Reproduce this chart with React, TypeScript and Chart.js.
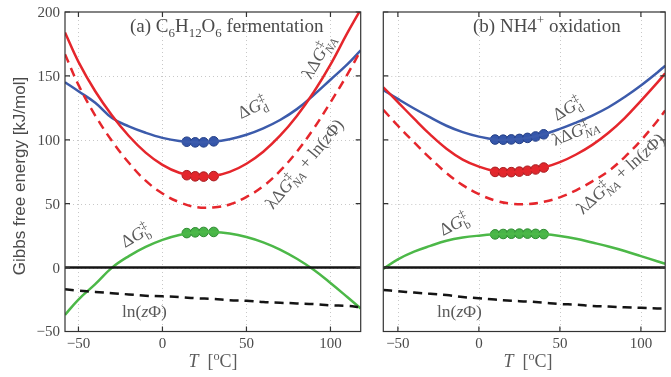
import React, { useEffect, useRef } from "react";
import { Chart, registerables } from "chart.js";

Chart.register(...registerables);

// ---------- Data ----------
// Panel (a) C6H12O6 fermentation
const T_A = [-58, -50, -40, -30, -20, -10, 0, 10, 20, 30, 40, 50, 60, 70, 80, 90, 100, 110, 118];
const A_DG_D = [145, 138, 129, 117, 110.5, 105.5, 101.5, 99, 98, 98.5, 100.5, 104, 109, 115.5, 124, 135, 147, 159, 170];
const A_LDG_NA = [184, 161, 138, 119, 103, 90, 80.4, 74.2, 71.3, 71.6, 74.9, 81.3, 90.7, 103.2, 118.7, 137.2, 158.8, 183.4, 202];
const A_LDG_NA_LN = [167, 143, 119, 99, 82, 68, 58, 51.2, 47.3, 47.1, 49.4, 55.3, 63.7, 75.7, 90.7, 108.7, 129.3, 151, 170];
const A_DG_B = [-37, -25, -13, 0, 9, 16.2, 21.7, 25.5, 27.6, 27.9, 26.7, 24, 19.8, 14.1, 6.9, -1.7, -12, -23, -32];
const A_LN = [-17, -18, -19, -20, -21, -22, -22.5, -23, -24, -24.5, -25.5, -26, -27, -27.5, -28, -28.5, -29.5, -30, -31];
const A_DOT_T = [14.5, 19.5, 24.5, 30.5];
const A_DOT_D = [98.5, 98, 98, 98.8];
const A_DOT_NA = [72.3, 71.4, 71.2, 71.6];
const A_DOT_B = [27, 27.6, 27.9, 27.9];

// Panel (b) NH4+ oxidation
const T_B = [-59, -50, -40, -30, -20, -10, 0, 10, 20, 30, 40, 50, 60, 70, 80, 90, 100, 110, 115];
const B_DG_D = [139, 132, 124.5, 117.5, 111, 106, 102.5, 100.3, 100.3, 101.5, 104.3, 108.5, 113.5, 119, 125.5, 133.5, 142.5, 152.5, 158];
const B_LDG_NA = [141, 129.5, 116.5, 104, 93, 84.5, 79, 75.5, 74.7, 75.8, 78.3, 82.5, 88.5, 96, 105.5, 117, 130.5, 144.5, 152];
const B_LDG_NA_LN = [123.5, 111, 98, 85.5, 74, 64.5, 57.5, 52.5, 50, 49.7, 51.5, 55, 60.5, 67.5, 75.5, 86.5, 99.5, 114.5, 123];
const B_DG_B = [-1, 6.5, 12.5, 17, 21, 23.5, 25, 26, 26.5, 26.6, 26.2, 24.8, 22.6, 19.6, 16.5, 13, 9, 5, 3];
const B_LN = [-17.5, -18.5, -19.5, -20.5, -21.5, -23, -24, -25, -26, -26.5, -27.5, -28.5, -29, -30, -30.5, -31, -31.5, -32, -32];
const B_DOT_T = [10, 15, 20, 25, 30, 35, 40];
const B_DOT_D = [100.2, 100.1, 100.3, 100.7, 101.5, 102.6, 104.3];
const B_DOT_NA = [74.9, 74.6, 74.7, 75.1, 75.8, 76.8, 78.3];
const B_DOT_B = [26, 26.3, 26.5, 26.6, 26.6, 26.4, 26.2];

const X_TICKS = [-50, 0, 50, 100];
const Y_TICKS = [-50, 0, 50, 100, 150, 200];
const Y_MIN = -50;
const Y_MAX = 200;
const A_X_RANGE = [-58, 118];
const B_X_RANGE = [-59, 115];
const ZERO_G = [0, 0];

// ---------- Styling ----------
const SERIF = '"Liberation Serif", "DejaVu Serif", serif';
const SANS = '"Liberation Sans", Arial, sans-serif';
const BLUE = "#3c5bab";
const RED = "#e5262c";
const GREEN = "#4cb848";
const BLACK = "#141414";
const TEXT = "#4a4a4a";
const LABEL = "#5a5a5a";

type Seg = { t?: string; italic?: boolean; sup?: string; sub?: string; subItalic?: boolean };
type Label = { segs: Seg[]; x: number; y: number; angle: number; size: number; color: string; align?: "left" | "center" };

const gd = (s: string): Seg[] => [{ t: "Δ" }, { t: "G", italic: true, sup: "‡", sub: s }];
const lna: Seg[] = [{ t: "λΔ" }, { t: "G", italic: true, sup: "‡", sub: "NA", subItalic: true }];
const lnzp: Seg[] = [{ t: "ln(" }, { t: "z", italic: true }, { t: "Φ)" }];
const xTitle: Seg[] = [{ t: "T", italic: true }, { t: "  [" }, { sup: "o" }, { t: "C]" }];

const LABELS_A: Label[] = [
  { segs: [{ t: "(a) C", sub: "6" }, { t: "H", sub: "12" }, { t: "O", sub: "6" }, { t: " fermentation" }], x: 130, y: 32, angle: 0, size: 19, color: TEXT },
  { segs: gd("d"), x: 241, y: 119, angle: -25, size: 17.5, color: LABEL },
  { segs: lna, x: 311, y: 80, angle: -60, size: 17.5, color: LABEL },
  { segs: [...lna, { t: " + " }, ...lnzp], x: 273, y: 210, angle: -50, size: 17.5, color: LABEL },
  { segs: gd("b"), x: 125, y: 248, angle: -30, size: 17.5, color: LABEL },
  { segs: lnzp, x: 122, y: 317, angle: 0, size: 17.5, color: LABEL },
  { segs: xTitle, x: 213, y: 367, angle: 0, size: 18, color: LABEL, align: "center" },
];
const LABELS_B: Label[] = [
  { segs: [{ t: "(b) NH4", sup: "+" }, { t: " oxidation" }], x: 473, y: 32, angle: 0, size: 19, color: TEXT },
  { segs: gd("d"), x: 557, y: 121, angle: -30, size: 17.5, color: LABEL },
  { segs: lna, x: 555, y: 146, angle: -22, size: 17.5, color: LABEL },
  { segs: [...lna, { t: " + " }, ...lnzp], x: 583, y: 215, angle: -42, size: 17.5, color: LABEL },
  { segs: gd("b"), x: 443, y: 236, angle: -27, size: 17.5, color: LABEL },
  { segs: lnzp, x: 437, y: 317, angle: 0, size: 17.5, color: LABEL },
  { segs: xTitle, x: 528, y: 367, angle: 0, size: 18, color: LABEL, align: "center" },
];

function segWidth(ctx: CanvasRenderingContext2D, segs: Seg[], size: number) {
  let w = 0;
  const small = size * 0.68;
  for (const s of segs) {
    if (s.t) {
      ctx.font = `${s.italic ? "italic " : ""}${size}px ${SERIF}`;
      w += ctx.measureText(s.t).width;
    }
    let ww = 0;
    if (s.sup) {
      ctx.font = `${small}px ${SERIF}`;
      ww = Math.max(ww, ctx.measureText(s.sup).width);
    }
    if (s.sub) {
      ctx.font = `${s.subItalic ? "italic " : ""}${small}px ${SERIF}`;
      ww = Math.max(ww, ctx.measureText(s.sub).width);
    }
    w += ww;
  }
  return w;
}

function drawRich(ctx: CanvasRenderingContext2D, L: Label, offX: number) {
  ctx.save();
  ctx.translate(L.x - offX, L.y);
  ctx.rotate((L.angle * Math.PI) / 180);
  ctx.fillStyle = L.color;
  ctx.textBaseline = "alphabetic";
  ctx.textAlign = "left";
  const size = L.size;
  const small = size * 0.68;
  let cx = L.align === "center" ? -segWidth(ctx, L.segs, size) / 2 : 0;
  for (const s of L.segs) {
    if (s.t) {
      ctx.font = `${s.italic ? "italic " : ""}${size}px ${SERIF}`;
      ctx.fillText(s.t, cx, 0);
      cx += ctx.measureText(s.t).width;
    }
    let ww = 0;
    if (s.sup) {
      ctx.font = `${small}px ${SERIF}`;
      ctx.fillText(s.sup, cx, -size * 0.4);
      ww = Math.max(ww, ctx.measureText(s.sup).width);
    }
    if (s.sub) {
      ctx.font = `${s.subItalic ? "italic " : ""}${small}px ${SERIF}`;
      ctx.fillText(s.sub, cx, size * 0.27);
      ww = Math.max(ww, ctx.measureText(s.sub).width);
    }
    cx += ww;
  }
  ctx.restore();
}

type Panel = {
  offX: number;
  width: number;
  padLeft: number;
  padRight: number;
  xRange: number[];
  showYLabels: boolean;
  labels: Label[];
  T: number[];
  dd: number[];
  na: number[];
  naLn: number[];
  db: number[];
  ln: number[];
  dotT: number[];
  dotD: number[];
  dotNA: number[];
  dotB: number[];
};

const PANELS: Panel[] = [
  {
    offX: 0, width: 370, padLeft: 65, padRight: 9.3, xRange: A_X_RANGE, showYLabels: true, labels: LABELS_A,
    T: T_A, dd: A_DG_D, na: A_LDG_NA, naLn: A_LDG_NA_LN, db: A_DG_B, ln: A_LN,
    dotT: A_DOT_T, dotD: A_DOT_D, dotNA: A_DOT_NA, dotB: A_DOT_B,
  },
  {
    offX: 372, width: 299, padLeft: 11.3, padRight: 0, xRange: B_X_RANGE, showYLabels: false, labels: LABELS_B,
    T: T_B, dd: B_DG_D, na: B_LDG_NA, naLn: B_LDG_NA_LN, db: B_DG_B, ln: B_LN,
    dotT: B_DOT_T, dotD: B_DOT_D, dotNA: B_DOT_NA, dotB: B_DOT_B,
  },
];

const minus = (v: number) => String(v).replace("-", "\u2212");

function makePlugin(p: Panel) {
  return {
    id: "frame" + p.offX,
    beforeDatasetsDraw(chart: any) {
      const { ctx, chartArea: a, scales } = chart;
      const xs = scales.x;
      const ys = scales.y;
      ctx.save();
      ctx.strokeStyle = "#c8c8c8";
      ctx.lineWidth = 1;
      ctx.setLineDash([1, 3]);
      for (const v of X_TICKS) {
        const px = Math.round(xs.getPixelForValue(v)) + 0.5;
        ctx.beginPath();
        ctx.moveTo(px, a.top);
        ctx.lineTo(px, a.bottom);
        ctx.stroke();
      }
      for (const v of Y_TICKS) {
        if (v <= Y_MIN || v >= Y_MAX) continue;
        const py = Math.round(ys.getPixelForValue(v)) + 0.5;
        ctx.beginPath();
        ctx.moveTo(a.left, py);
        ctx.lineTo(a.right, py);
        ctx.stroke();
      }
      ctx.restore();
    },
    afterDatasetsDraw(chart: any) {
      const { ctx, chartArea: a, scales } = chart;
      const xs = scales.x;
      const ys = scales.y;
      ctx.save();
      ctx.setLineDash([]);
      ctx.strokeStyle = "#333";
      ctx.lineWidth = 1.2;
      ctx.strokeRect(a.left, a.top, a.right - a.left, a.bottom - a.top);
      const tl = 5;
      ctx.beginPath();
      for (const v of X_TICKS) {
        const px = xs.getPixelForValue(v);
        ctx.moveTo(px, a.bottom);
        ctx.lineTo(px, a.bottom - tl);
        ctx.moveTo(px, a.top);
        ctx.lineTo(px, a.top + tl);
      }
      for (const v of Y_TICKS) {
        const py = ys.getPixelForValue(v);
        ctx.moveTo(a.left, py);
        ctx.lineTo(a.left + tl, py);
        ctx.moveTo(a.right, py);
        ctx.lineTo(a.right - tl, py);
      }
      ctx.stroke();

      ctx.fillStyle = TEXT;
      ctx.font = `15px ${SERIF}`;
      ctx.textAlign = "center";
      ctx.textBaseline = "middle";
      for (const v of X_TICKS) {
        ctx.fillText(minus(v), xs.getPixelForValue(v), 344);
      }
      if (p.showYLabels) {
        ctx.textAlign = "right";
        for (const v of Y_TICKS) {
          ctx.fillText(minus(v), a.left - 5, ys.getPixelForValue(v) + 1);
        }
        ctx.save();
        ctx.translate(20, 176);
        ctx.rotate(-Math.PI / 2);
        ctx.textAlign = "center";
        ctx.font = `17px ${SANS}`;
        ctx.fillText("Gibbs free energy [kJ/mol]", 0, 0);
        ctx.restore();
      }
      for (const L of p.labels) drawRich(ctx, L, p.offX);
      ctx.restore();
    },
  };
}

const pts = (xs: number[], ys: number[]) => xs.map((x, i) => ({ x, y: ys[i] }));

function PanelChart({ p }: { p: Panel }) {
  const ref = useRef<HTMLCanvasElement | null>(null);
  useEffect(() => {
    if (!ref.current) return;
    const line = (data: any, color: string, dash: number[] = []) => ({
      type: "line",
      data,
      borderColor: color,
      backgroundColor: color,
      borderWidth: 2.5,
      borderDash: dash,
      pointRadius: 0,
      tension: 0.4,
      fill: false,
    });
    const dots = (data: any, fill: string, edge: string) => ({
      type: "line",
      data,
      showLine: false,
      pointRadius: 4.8,
      pointBackgroundColor: fill,
      pointBorderColor: edge,
      pointBorderWidth: 1,
      borderColor: fill,
    });
    const chart = new Chart(ref.current, {
      type: "line",
      data: {
        datasets: [
          line(pts(p.xRange, ZERO_G), BLACK) as any,
          line(pts(p.T, p.ln), BLACK, [9, 6]) as any,
          line(pts(p.T, p.db), GREEN) as any,
          line(pts(p.T, p.naLn), RED, [9, 6]) as any,
          line(pts(p.T, p.na), RED) as any,
          line(pts(p.T, p.dd), BLUE) as any,
          dots(pts(p.dotT, p.dotD), "#3556aa", "#243f85") as any,
          dots(pts(p.dotT, p.dotNA), "#e0282d", "#a81c20") as any,
          dots(pts(p.dotT, p.dotB), "#48b448", "#2e8a30") as any,
        ],
      },
      options: {
        responsive: false,
        animation: false,
        events: [],
        layout: { padding: { left: p.padLeft, right: p.padRight, top: 12, bottom: 45.5 } },
        plugins: { legend: { display: false }, tooltip: { enabled: false } },
        scales: {
          x: { type: "linear", min: p.xRange[0], max: p.xRange[1], display: false },
          y: { type: "linear", min: Y_MIN, max: Y_MAX, display: false },
        },
      },
      plugins: [makePlugin(p)],
    } as any);
    return () => chart.destroy();
  }, [p]);
  return (
    <canvas
      ref={ref}
      width={p.width}
      height={377}
      style={{ position: "absolute", left: p.offX, top: 0, width: p.width, height: 377 }}
    />
  );
}

export default function App() {
  return (
    <div
      style={{
        position: "fixed",
        left: 0,
        top: 0,
        width: 671,
        height: 377,
        overflow: "hidden",
        background: "#fff",
      }}
    >
      {PANELS.map((p) => (
        <PanelChart key={p.offX} p={p} />
      ))}
    </div>
  );
}
